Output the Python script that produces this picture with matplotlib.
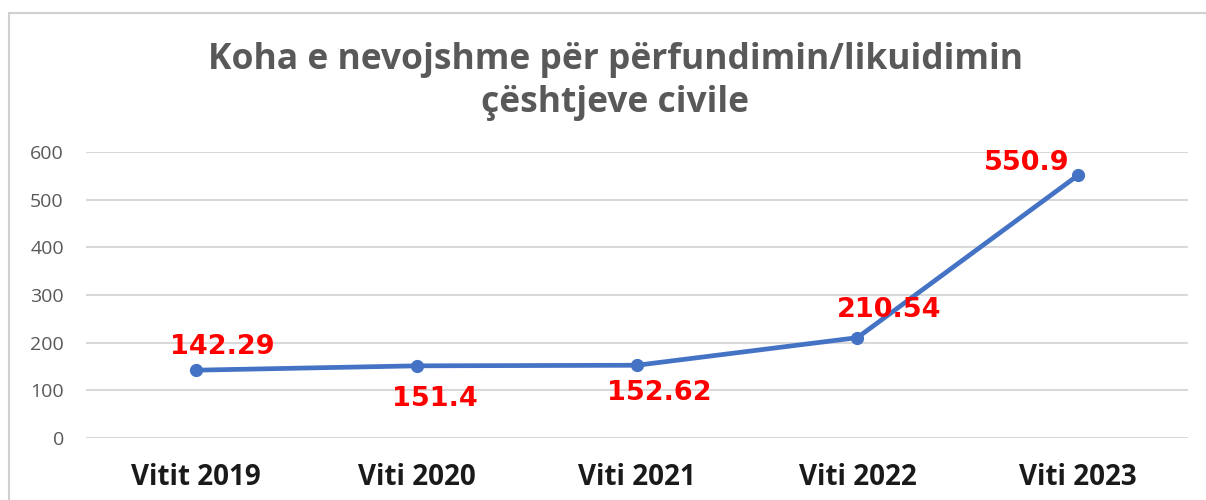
import numpy as np
import matplotlib.pyplot as plt
from matplotlib.patches import Rectangle

categories = ['Vitit 2019', 'Viti 2020', 'Viti 2021', 'Viti 2022', 'Viti 2023']
values = [142.29, 151.4, 152.62, 210.54, 550.9]
value_labels = ['142.29', '151.4', '152.62', '210.54', '550.9']
yticks = [0, 100, 200, 300, 400, 500, 600]

W, H = 1206, 500
fig = plt.figure(figsize=(W / 100, H / 100), dpi=100)
fig.patch.set_facecolor('white')

# chart border (right side runs off the image)
fig.add_artist(Rectangle((9 / W, -0.1), 1.2, (H - 13) / H + 0.1,
                         transform=fig.transFigure, fill=False,
                         edgecolor='#d0d0d0', linewidth=1.5))

ax = fig.add_axes([86 / W, (H - 438) / H, (1188 - 86) / W, (438 - 152) / H])
x = np.arange(len(categories))
ax.plot(x, values, color='#4472C4', linewidth=3.4, marker='o',
        markersize=8.5, solid_capstyle='round')

ax.set_xlim(-0.5, len(categories) - 0.5)
ax.set_ylim(0, 600)
ax.set_yticks(yticks)
ax.set_yticklabels([str(t) for t in yticks], fontsize=14, color='#595959',
                   family='Open Sans')
ax.set_xticks(x)
ax.set_xticklabels(categories, fontsize=20, fontweight='bold',
                   color='#1a1a1a', family='Open Sans')
ax.tick_params(axis='both', length=0)
ax.tick_params(axis='y', pad=16)
ax.tick_params(axis='x', pad=18)
ax.grid(axis='y', color='#d9d9d9', linewidth=1.5)
ax.set_axisbelow(True)
for s in ax.spines.values():
    s.set_visible(False)

# data labels: offsets in points (dx, dy)
offsets = [(19, 17), (13, -24), (16, -20), (23, 20), (-37, 9)]
for xi, v, lab, (dx, dy) in zip(x, values, value_labels, offsets):
    ax.annotate(lab, (xi, v), xytext=(dx, dy), textcoords='offset points',
                ha='center', va='center', color='#ff0000', fontsize=19.5,
                fontweight='bold', family='DejaVu Sans')

fig.text(615 / W, (H - 60) / H, 'Koha e nevojshme për përfundimin/likuidimin',
         ha='center', va='center', fontsize=25.5, fontweight='bold',
         color='#595959', family='Open Sans')
fig.text(615 / W, (H - 103) / H, 'çështjeve civile',
         ha='center', va='center', fontsize=25.5, fontweight='bold',
         color='#595959', family='Open Sans')

fig.savefig('out.png', dpi=100)
